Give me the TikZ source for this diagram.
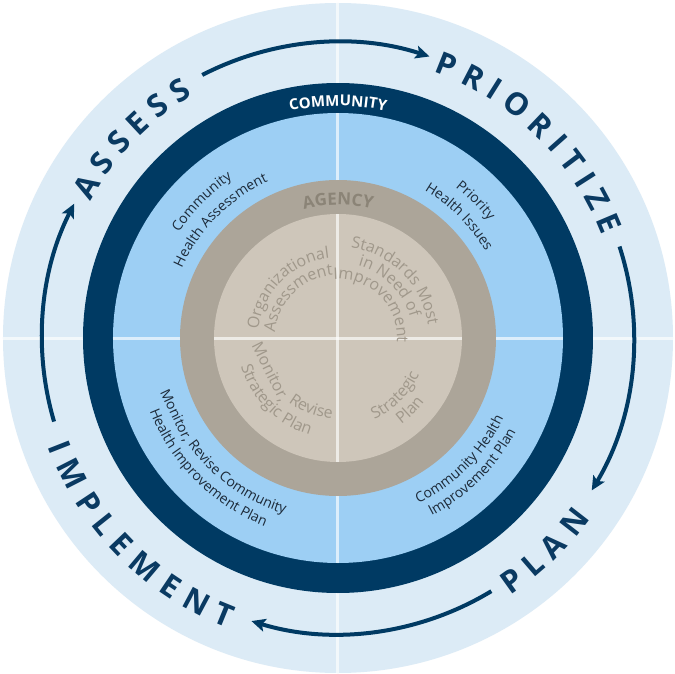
\documentclass[tikz,border=0pt]{standalone}
\usepackage{fontspec}
\setmainfont{Open Sans}
\usetikzlibrary{decorations.text,arrows.meta}
\definecolor{outerblue}{HTML}{DCEBF6}
\definecolor{navy}{HTML}{003A63}
\definecolor{skyblue}{HTML}{9DCFF4}
\definecolor{tanring}{HTML}{ACA599}
\definecolor{beige}{HTML}{CEC6BA}
\definecolor{beigeink}{HTML}{A0988B}
\definecolor{agencyink}{HTML}{8B8477}
\definecolor{skyink}{HTML}{1D2B3A}
\definecolor{wordink}{HTML}{0A3A62}
\def\awfs{31}
\def\awtrk{9.4}
\newcommand\bigword{\bfseries\fontsize{31}{31}\selectfont}
\newcommand\skyfmt{\color{skyink}\fontsize{14}{14}\selectfont}
\newcommand\beigefmt{\color{beigeink}\fontsize{16}{16}\selectfont}
\newcommand\commfmt{\color{white}\bfseries\fontsize{15}{15}\selectfont}
\newcommand\agencyfmt{\color{agencyink}\bfseries\fontsize{17}{17}\selectfont}
\tikzset{
  bigstyle/.style={font=\bigword, text=wordink, inner sep=0pt, anchor=center},
  cycarrow/.style={draw=navy, line width=4pt, -{Stealth[length=14pt,width=13pt,inset=3pt]}},
  crossline/.style={draw=white, draw opacity=0.65, line width=3pt},
}
% letters/width(em), centre angle, radius, direction (1 clockwise / -1 counter-clockwise)
\newcommand\arcword[4]{%
  \xdef\awtot{0}%
  \foreach \ch/\w in {#1}{\pgfmathsetmacro\awt{\awtot+\w*\awfs+\awtrk}\xdef\awtot{\awt}}%
  \pgfmathsetmacro\awt{-0.5*(\awtot-\awtrk)}\xdef\awcur{\awt}%
  \foreach \ch/\w in {#1}{%
    \pgfmathsetmacro\aws{\awcur+0.5*\w*\awfs}%
    \pgfmathsetmacro\awa{#2-(#4)*\aws/(#3)*180/pi}%
    \pgfmathsetmacro\awr{\awa-90*(#4)}%
    \node[bigstyle,rotate=\awr] at (\awa:#3pt) {\ch};%
    \pgfmathsetmacro\awt{\awcur+\w*\awfs+\awtrk}\xdef\awcur{\awt}%
  }%
}
\newcommand\ctext[5]{%
  \path[decorate, decoration={text along path, text align=center, text={|#4|#5}}]
    (#1:#3pt) arc[start angle=#1, end angle=#2, radius=#3pt];}
\begin{document}
\begin{tikzpicture}
\useasboundingbox (-338pt,-335pt) rectangle (337pt,338pt);
\fill[white] (-338pt,-335pt) rectangle (337pt,338pt);
% rings
\fill[outerblue] (0,0) circle[radius=335pt];
\fill[navy] (0,0) circle[radius=255pt];
\fill[skyblue] (0,0) circle[radius=225pt];
\fill[tanring] (0,0) circle[radius=158pt];
\fill[beige] (0,0) circle[radius=124pt];
% cross lines
\foreach \a in {0,90,180,270}{
  \draw[crossline] (0,0) -- (\a:124pt);
  \draw[crossline] (\a:158pt) -- (\a:225pt);
  \draw[crossline] (\a:255pt) -- (\a:335pt);
}
% cycle arrows
\draw[cycarrow] (117.3:296pt) arc[start angle=117.3, end angle=72, radius=296pt];
\draw[cycarrow] (18:296pt) arc[start angle=18, end angle=-31, radius=296pt];
\draw[cycarrow] (-58.8:296pt) arc[start angle=-58.8, end angle=-107, radius=296pt];
\draw[cycarrow] (196.4:296pt) arc[start angle=196.4, end angle=153, radius=296pt];
% big words
\arcword{A/0.677,S/0.559,S/0.559,E/0.544,S/0.559,S/0.559}{136}{294}{1}
\arcword{P/0.616,R/0.655,I/0.322,O/0.797,R/0.655,I/0.322,T/0.561,I/0.322,Z/0.56,E/0.544}{45.7}{294}{1}
\arcword{P/0.616,L/0.504,A/0.677,N/0.784}{-45.9}{299}{-1}
\arcword{I/0.322,M/0.963,P/0.616,L/0.504,E/0.544,M/0.963,E/0.544,N/0.784,T/0.561}{224.9}{299}{-1}
% ring labels
\ctext{135}{45}{232}{\commfmt}{COMMUNITY}
\ctext{150}{30}{133}{\agencyfmt}{AGENCY}
% community texts
\ctext{180}{90}{191}{\skyfmt}{Community}
\ctext{180}{90}{171}{\skyfmt}{Health Assessment}
\ctext{90}{0}{191}{\skyfmt}{Priority}
\ctext{90}{0}{171}{\skyfmt}{Health Issues}
\ctext{160}{290}{184}{\skyfmt}{{Monitor,} Revise Community}
\ctext{160}{290}{202}{\skyfmt}{Health Improvement Plan}
\ctext{250}{380}{184}{\skyfmt}{Community Health}
\ctext{250}{380}{201}{\skyfmt}{Improvement Plan}
% agency texts
\ctext{200}{70}{80}{\beigefmt}{Organizational}
\ctext{200}{70}{63}{\beigefmt}{Assessment}
\ctext{110}{-20}{91}{\beigefmt}{Standards Most}
\ctext{110}{-20}{75}{\beigefmt}{in Need of}
\ctext{110}{-20}{59}{\beigefmt}{Improvement}
\ctext{160}{290}{81}{\beigefmt}{{Monitor,} Revise}
\ctext{160}{290}{101}{\beigefmt}{Strategic Plan}
\ctext{250}{380}{89}{\beigefmt}{Strategic}
\ctext{250}{380}{107}{\beigefmt}{Plan}
\end{tikzpicture}
\end{document}
